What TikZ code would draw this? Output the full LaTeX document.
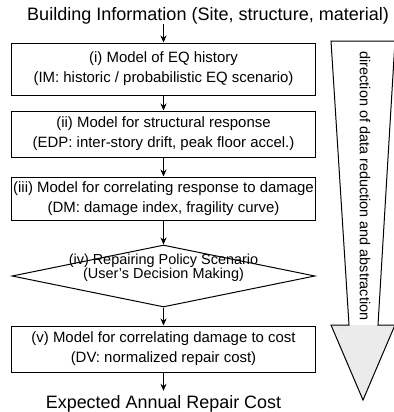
\documentclass[tikz,border=0pt]{standalone}
\usepackage{fontspec}
\setmainfont{Liberation Sans}
\usetikzlibrary{arrows.meta,shapes.geometric}
\begin{document}
\begin{tikzpicture}[x=1bp,y=-1bp,
  box/.style={draw, line width=1bp, minimum width=303bp, inner sep=0pt, align=center,
    font=\fontsize{15}{20}\selectfont},
  conn/.style={-{Stealth[length=7bp,width=6bp]}, line width=0.8bp},
  bigarrow/.style={draw, line width=1bp, line join=miter}]
\useasboundingbox (0,0) rectangle (394,412);

\node[anchor=base west, inner sep=0pt, font=\fontsize{18.1}{20}\selectfont] (title) at (27,20)
  {Building Information (Site, structure, material)};

\node[box, minimum height=52bp] (b1) at (163.5,69)
  {(i) Model of EQ history\\(IM: historic / probabilistic EQ scenario)};
\node[box, minimum height=46bp] (b2) at (163.5,134)
  {(ii) Model for structural response\\(EDP: inter-story drift, peak floor accel.)};
\node[box, minimum height=43bp] (b3) at (163.5,198.5)
  {(iii) Model for correlating response to damage\\(DM: damage index, fragility curve)};
\node[diamond, draw, line width=1bp, minimum width=303bp, minimum height=62bp, inner sep=0pt] (d) at (163.5,276) {};
\node[align=center, inner sep=0pt, font=\fontsize{14.5}{11.5}\selectfont] (dt) at (163.5,268)
  {(iv) Repairing Policy Scenario\\(User's Decision Making)};
\node[box, minimum height=46bp] (b5) at (163.5,349)
  {(v) Model for correlating damage to cost\\(DV: normalized repair cost)};

\node[anchor=base, inner sep=0pt, font=\fontsize{18}{20}\selectfont] (exp) at (163.5,408)
  {Expected Annual Repair Cost};

\draw[conn] (title.south -| b1.north) -- (b1.north);
\draw[conn] (b1) -- (b2);
\draw[conn] (b2) -- (b3);
\draw[conn] (b3) -- (d);
\draw[conn] (d) -- (b5);
\draw[conn, shorten >=4bp] (b5.south) -- (exp.north);

% big arrow
\coordinate (a1) at (331,41);
\coordinate (a2) at (395,41);
\coordinate (a3) at (378,325);
\coordinate (a4) at (395,325);
\coordinate (a5) at (363,400);
\coordinate (a6) at (331,325);
\coordinate (a7) at (349,325);
\fill[black!8] (a6) -- (a4) -- (a5) -- cycle;
\draw[bigarrow] (a1) -- (a2) -- (a3) -- (a4) -- (a5) -- (a6) -- (a7) -- cycle;
\node[rotate=-90, inner sep=0pt, font=\fontsize{14.5}{15}\selectfont] (dir) at (365,186)
  {direction of data reduction and abstraction};
\end{tikzpicture}
\end{document}
